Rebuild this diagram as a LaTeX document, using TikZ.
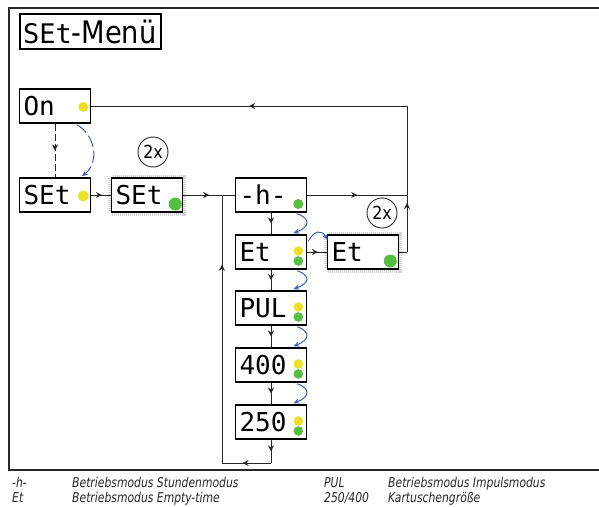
\documentclass[tikz,border=0pt]{standalone}
\usepackage{fontspec}
\usetikzlibrary{arrows.meta,decorations.markings,calc}
\newfontfamily\segf{DejaVu Sans Mono}
\newfontfamily\labf[FakeStretch=0.88]{DejaVu Sans}
\newfontfamily\legf[FakeStretch=0.8]{DejaVu Sans}
\definecolor{ylw}{RGB}{235,225,40}
\definecolor{grn}{RGB}{85,190,65}
\definecolor{blu}{RGB}{60,95,200}
\definecolor{ln}{RGB}{40,40,40}
\tikzset{
 disp/.style={draw=black, line width=1.6pt, fill=white, minimum width=71pt, minimum height=34pt, text width=63pt, inner xsep=4pt, align=left, font=\segf\fontsize{26}{26}\selectfont},
 haze/.style={preaction={draw=gray!35, line width=7pt, dash pattern=on 1pt off 1pt}},
 conn/.style={draw=ln, line width=0.9pt},
 marr/.style={postaction={decorate, decoration={markings, mark=at position #1 with {\arrow{Stealth[length=6pt,width=6pt,inset=2pt]}}}}},
 barc/.style={draw=blu, line width=1pt, -{Stealth[length=6pt,width=5pt]}},
 cnt/.style={draw=ln, circle, minimum size=30pt, inner sep=0pt, line width=0.9pt, font=\labf\fontsize{18}{18}\selectfont},
 lab/.style={anchor=base west, inner sep=0pt, text=ln, font=\legf\itshape\fontsize{13.5}{13.5}\selectfont},
}
\begin{document}
\begin{tikzpicture}[x=1pt,y=-1pt]
\useasboundingbox (0,0) rectangle (599,506);
\fill[white] (0,0) rectangle (599,506);
% frame
\draw[ln, line width=1.2pt] (599,8) -- (9,8) -- (9,470) -- (599,470);
% title
\node[draw=black, line width=1.5pt, minimum width=141pt, minimum height=35pt, text width=135pt, inner xsep=3pt, align=left] (title) at (90.5,31.5)
  {{\segf\fontsize{27}{27}\selectfont SEt}{\labf\fontsize{31}{31}\selectfont -Menü}};
% displays
\node[disp] (on) at (55,106) {On};
\node[disp] (set1) at (55,195) {SEt};
\node[disp, haze] (set2) at (147,195) {SEt};
\node[disp] (h) at (271,195) {-h-};
\node[disp] (et) at (271,252) {Et};
\node[disp, haze] (et2) at (363,252) {Et};
\node[disp] (pul) at (271,308) {PUL};
\node[disp] (f400) at (271,365) {400};
\node[disp] (f250) at (271,422) {250};
% dots
\fill[ylw] ($(on.east)+(-8,1)$) circle (5);
\fill[ylw] ($(set1.east)+(-8,1)$) circle (5.5);
\fill[grn] ($(set2.east)+(-8,9)$) circle (6.5);
\fill[grn] ($(h.east)+(-9,9)$) circle (5);
\fill[grn] ($(et2.east)+(-9,9)$) circle (6.5);
\foreach \n in {et,pul,f400,f250}{
  \fill[ylw] ($(\n.east)+(-9,-1)$) circle (4.8);
  \fill[grn] ($(\n.east)+(-9,9)$) circle (4.8);
}
% junctions
\coordinate (jl) at (222,195);
\coordinate (jr) at (407,195);
\coordinate (jb) at (271,463);
\coordinate (jbl) at (222,463);
% connectors
\draw[conn, dash pattern=on 7pt off 3pt, marr=0.5] (on.south) -- (set1.north);
\draw[conn, marr=0.55] (set1.east) -- (set2.west);
\draw[conn, marr=0.67] (set2.east) -- (jl);
\draw[conn] (jl) -- (h.west);
\draw[conn, marr=0.5] (h.east) -- (jr);
\draw[conn] (jr) -- (jr |- on.east);
\draw[conn, marr=0.5] (jr |- on.east) -- (on.east);
\draw[conn, marr=0.55] (et.east) -- (et2.west);
\draw[conn] (et2.east) -- (et2.east -| jr);
\draw[conn, marr=0.86] (et2.east -| jr) -- (jr);
\draw[conn, marr=0.5] (h.south) -- (et.north);
\draw[conn, marr=0.5] (et.south) -- (pul.north);
\draw[conn, marr=0.5] (pul.south) -- (f400.north);
\draw[conn, marr=0.5] (f400.south) -- (f250.north);
\draw[conn, marr=0.5] (f250.south) -- (jb);
\draw[conn, marr=0.58] (jb) -- (jbl);
\draw[conn, marr=0.74] (jbl) -- (jl);
% blue arcs
\draw[barc, dash pattern=on 12pt off 4pt] ($(on.south)+(22,1)$) .. controls +(18,10) and +(18,-14) .. ($(set1.north)+(27,-1)$);
\foreach \a/\b in {h/et,et/pul,pul/f400,f400/f250}{
  \draw[barc] ($(\a.south east)+(-10,1)$) .. controls +(14,5) and +(16,-6) .. ($(\b.north east)+(-14,-1)$);
}
\draw[barc] ($(et.north east)+(1,7)$) .. controls +(6,-11) and +(-6,-11) .. ($(et2.north west)+(1,6)$);
% counters
\node[cnt] (c1) at (153,152) {2x};
\node[cnt] (c2) at (382,213) {2x};
% legend
\node[lab] (l1) at (12,487) {-h-};
\node[lab] (l2) at (72,487) {Betriebsmodus Stundenmodus};
\node[lab] (l3) at (324,487) {PUL};
\node[lab] (l4) at (388,487) {Betriebsmodus Impulsmodus};
\node[lab] (l5) at (12,502) {Et};
\node[lab] (l6) at (72,502) {Betriebsmodus Empty-time};
\node[lab] (l7) at (324,502) {250/400};
\node[lab] (l8) at (388,502) {Kartuschengröße};
\end{tikzpicture}
\end{document}
